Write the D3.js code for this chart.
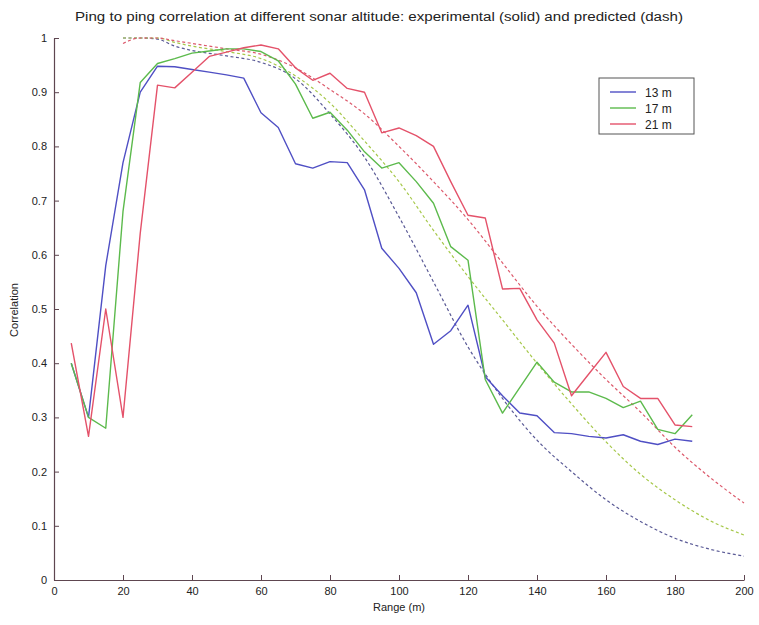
<!DOCTYPE html>
<html>
<head>
<meta charset="utf-8">
<script src="https://cdn.jsdelivr.net/npm/d3@7"></script>
<style>
  html, body { margin: 0; padding: 0; background: #ffffff; }
  svg { display: block; font-family: "Liberation Sans", Arial, Helvetica, sans-serif; }
</style>
</head>
<body>
<svg id="chart" width="759" height="625"></svg>
<script>
// Measured ranges (m)
const range = [5, 10, 15, 20, 25, 30, 35, 40, 45, 50, 55, 60, 65, 70, 75, 80, 85, 90, 95,
  100, 105, 110, 115, 120, 125, 130, 135, 140, 145, 150, 155, 160, 165, 170, 175, 180, 185];

// Experimental ping-to-ping correlation per sonar altitude
const corr13 = [0.40, 0.30, 0.58, 0.77, 0.90, 0.948, 0.947, 0.942, 0.937, 0.932, 0.926, 0.862,
  0.835, 0.768, 0.760, 0.772, 0.770, 0.720, 0.612, 0.575, 0.530, 0.435, 0.460, 0.507, 0.375,
  0.340, 0.308, 0.303, 0.272, 0.270, 0.265, 0.262, 0.268, 0.256, 0.250, 0.260, 0.256];
const corr17 = [0.40, 0.30, 0.28, 0.68, 0.918, 0.953, 0.962, 0.972, 0.976, 0.980, 0.980, 0.975,
  0.958, 0.915, 0.852, 0.863, 0.830, 0.790, 0.760, 0.770, 0.735, 0.695, 0.615, 0.590, 0.370,
  0.308, 0.355, 0.402, 0.365, 0.347, 0.347, 0.335, 0.318, 0.330, 0.278, 0.270, 0.305];
const corr21 = [0.437, 0.265, 0.50, 0.30, 0.64, 0.913, 0.908, 0.937, 0.966, 0.974, 0.982, 0.987,
  0.980, 0.945, 0.922, 0.935, 0.907, 0.900, 0.825, 0.834, 0.820, 0.800, 0.735, 0.673, 0.668,
  0.537, 0.538, 0.480, 0.437, 0.340, 0.380, 0.420, 0.357, 0.335, 0.335, 0.286, 0.283];

// Predicted correlation curves
const predRange = [20, 25, 30, 35, 40, 50, 60, 70, 80, 90, 100, 110, 120, 130, 140, 150, 160, 170, 180, 190, 200];
const pred13 = [1.0, 1.0, 0.998, 0.985, 0.977, 0.967, 0.955, 0.925, 0.86, 0.78, 0.67, 0.55, 0.43,
  0.335, 0.258, 0.20, 0.148, 0.108, 0.077, 0.057, 0.044];
const pred17 = [1.0, 1.0, 1.0, 0.992, 0.985, 0.975, 0.962, 0.93, 0.88, 0.81, 0.735, 0.645, 0.56,
  0.48, 0.40, 0.325, 0.255, 0.195, 0.148, 0.11, 0.083];
const pred21 = [0.99, 1.0, 1.0, 0.995, 0.99, 0.98, 0.97, 0.945, 0.905, 0.86, 0.80, 0.735, 0.665,
  0.585, 0.505, 0.435, 0.37, 0.31, 0.245, 0.19, 0.142];

const seriesNames = ["13 m", "17 m", "21 m"];
const solidColors = ["#4f4fc4", "#5cba4c", "#e4526a"];
const dashColors = ["#5a5a96", "#a6c84a", "#dc5a6c"];

const xTicks = [0, 20, 40, 60, 80, 100, 120, 140, 160, 180, 200];
const yTicks = [0, 0.1, 0.2, 0.3, 0.4, 0.5, 0.6, 0.7, 0.8, 0.9, 1];

const titleText = "Ping to ping correlation at different sonar altitude: experimental (solid) and predicted (dash)";

const svg = d3.select("#chart");
const plotLeft = 54, plotRight = 744, plotTop = 38, plotBottom = 580;
const axisColor = "#5e4650";

const x = d3.scaleLinear().domain([0, 200]).range([plotLeft, plotRight]);
const y = d3.scaleLinear().domain([0, 1]).range([plotBottom, plotTop]);

// Title
svg.append("text")
  .attr("x", 379).attr("y", 21)
  .attr("text-anchor", "middle")
  .attr("font-size", 12)
  .attr("fill", "#222")
  .attr("textLength", 608).attr("lengthAdjust", "spacingAndGlyphs")
  .text(titleText);

// Axes (ticks drawn inward)
const xAxis = svg.append("g")
  .attr("transform", `translate(0,${plotBottom})`)
  .call(d3.axisBottom(x).tickValues(xTicks).tickSizeInner(-5).tickSizeOuter(0).tickPadding(7)
    .tickFormat(d3.format("~g")));
const yAxis = svg.append("g")
  .attr("transform", `translate(${plotLeft},0)`)
  .call(d3.axisLeft(y).tickValues(yTicks).tickSizeInner(-5).tickSizeOuter(0).tickPadding(7)
    .tickFormat(d3.format("~g")));

[xAxis, yAxis].forEach(g => {
  g.select(".domain").attr("stroke", axisColor).attr("stroke-width", 1.2);
  g.selectAll(".tick line").attr("stroke", axisColor).attr("stroke-width", 1);
  g.selectAll(".tick text").attr("fill", "#222").attr("font-size", 11)
    .attr("font-family", "\"Liberation Sans\", Arial, sans-serif");
});

// Axis titles
svg.append("text")
  .attr("x", 399).attr("y", 611)
  .attr("text-anchor", "middle")
  .attr("font-size", 11).attr("fill", "#222")
  .text("Range (m)");
svg.append("text")
  .attr("transform", "translate(18,310) rotate(-90)")
  .attr("text-anchor", "middle")
  .attr("font-size", 11).attr("fill", "#222")
  .text("Correlation");

const line = d3.line().x(d => x(d[0])).y(d => y(d[1]));
const smoothLine = d3.line().curve(d3.curveMonotoneX).x(d => x(d[0])).y(d => y(d[1]));

// Predicted curves (dashed)
[pred13, pred17, pred21].forEach((vals, i) => {
  svg.append("path")
    .datum(predRange.map((r, j) => [r, vals[j]]))
    .attr("fill", "none")
    .attr("stroke", dashColors[i])
    .attr("stroke-width", 1.2)
    .attr("stroke-dasharray", "3,2.5")
    .attr("d", smoothLine);
});

// Experimental curves (solid)
[corr13, corr17, corr21].forEach((vals, i) => {
  svg.append("path")
    .datum(range.map((r, j) => [r, vals[j]]))
    .attr("fill", "none")
    .attr("stroke", solidColors[i])
    .attr("stroke-width", 1.4)
    .attr("stroke-linejoin", "round")
    .attr("d", line);
});

// Legend
const legend = svg.append("g").attr("transform", "translate(599,78)");
legend.append("rect")
  .attr("width", 95).attr("height", 56)
  .attr("fill", "#fff")
  .attr("stroke", "#555").attr("stroke-width", 1);
seriesNames.forEach((name, i) => {
  const yy = 14 + i * 16;
  legend.append("line")
    .attr("x1", 11).attr("x2", 37).attr("y1", yy).attr("y2", yy)
    .attr("stroke", solidColors[i]).attr("stroke-width", 1.4);
  legend.append("text")
    .attr("x", 46).attr("y", yy + 4.5)
    .attr("font-size", 12).attr("fill", "#222")
    .text(name);
});
</script>
</body>
</html>
